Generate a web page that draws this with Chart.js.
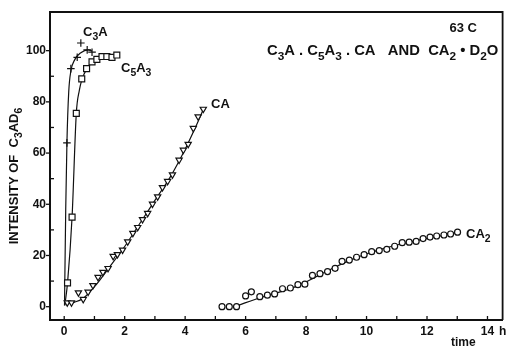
<!DOCTYPE html>
<html>
<head>
<meta charset="utf-8">
<script src="https://cdn.jsdelivr.net/npm/chart.js@4"></script>
<style>
html, body { margin: 0; padding: 0; background: #fff; }
canvas { display: block; }
</style>
</head>
<body>
<canvas id="myChart" width="508" height="347"></canvas>
<script>
// measured points (time in h, intensity)
var c3aTime = [0.09, 0.22, 0.43, 0.55, 0.76, 0.92];
var c3aInt  = [64, 93, 97.4, 103, 100.3, 99.4];

var c5a3Time = [0.11, 0.26, 0.40, 0.58, 0.74, 0.92, 1.08, 1.25, 1.41, 1.58, 1.74];
var c5a3Int  = [9.3, 35, 75.5, 89, 93, 95.6, 96.6, 97.7, 97.7, 97.4, 98.3];

var caTime = [0.10, 0.24, 0.47, 0.63, 0.79, 0.95, 1.12, 1.28, 1.45, 1.62, 1.76, 1.93, 2.10, 2.27, 2.43, 2.59, 2.76, 2.92, 3.09, 3.25, 3.42, 3.58, 3.80, 3.94, 4.10, 4.27, 4.43, 4.60];
var caInt  = [1.6, 1.6, 5.5, 2.9, 5.8, 8.3, 11.5, 13.5, 15.0, 19.7, 20.4, 22.2, 25.4, 28.7, 31.0, 34.1, 36.5, 40.1, 43.0, 46.6, 49.0, 51.6, 57.3, 61.2, 63.5, 69.7, 74.2, 77.2];

var ca2Time = [5.22, 5.46, 5.70, 6.00, 6.19, 6.47, 6.72, 6.96, 7.22, 7.48, 7.73, 7.96, 8.21, 8.46, 8.71, 8.96, 9.19, 9.43, 9.67, 9.92, 10.17, 10.42, 10.67, 10.93, 11.18, 11.41, 11.64, 11.87, 12.10, 12.32, 12.56, 12.78, 13.01];
var ca2Int  = [0, 0, 0, 4.2, 5.8, 3.9, 4.5, 5.0, 7.0, 7.3, 8.6, 8.8, 12.2, 12.9, 13.7, 15.0, 17.7, 18.2, 19.3, 20.3, 21.5, 21.9, 22.4, 23.6, 25.0, 25.2, 25.5, 26.6, 27.2, 27.6, 28.0, 28.4, 29.1];

// hand drawn fit curves
var c3aCurveTime = [0.01, 0.05, 0.09, 0.15, 0.22, 0.35, 0.55, 0.80, 0.92];
var c3aCurveInt  = [0.5, 38, 64, 84, 92, 96.5, 99.2, 100.3, 99.8];

var c5a3CurveTime = [0.02, 0.11, 0.26, 0.40, 0.50, 0.58, 0.74, 0.92, 1.20, 1.74];
var c5a3CurveInt  = [0.5, 9.3, 35, 75.5, 84.5, 88.5, 92.8, 95.4, 97, 98.3];

var caCurveTime = [0.02, 0.35, 0.62, 1.0, 1.5, 2.0, 2.5, 3.0, 3.5, 4.0, 4.3, 4.6];
var caCurveInt  = [1.2, 1.8, 3.2, 7.8, 15.5, 23.5, 32.5, 41.5, 50.5, 61.5, 69, 77];

var ca2CurveTime = [5.72, 6.5, 7.0, 7.5, 8.0, 8.5, 9.0, 9.5, 10.0, 10.5, 11.0, 11.5, 12.0, 12.5, 13.0];
var ca2CurveInt  = [0.4, 3.6, 5.3, 7.1, 9.7, 12.7, 15.7, 18.4, 20.6, 22.5, 24.1, 25.4, 26.7, 27.8, 28.9];

var xTicks = [0, 1, 2, 3, 4, 5, 6, 7, 8, 9, 10, 11, 12, 13, 14];
var xLabels = [0, 2, 4, 6, 8, 10, 12, 14];
var yTicks = [0, 10, 20, 30, 40, 50, 60, 70, 80, 90, 100];
var yLabels = [0, 20, 40, 60, 80, 100];

var ink = '#111';

function pairs(xs, ys) {
    return xs.map(function (x, i) { return {x: x, y: ys[i]}; });
}

function markers(xs, ys, style, r, rot) {
    return {
        data: pairs(xs, ys),
        showLine: false,
        pointStyle: style,
        pointRadius: r,
        pointRotation: rot || 0,
        pointBackgroundColor: '#fff',
        pointBorderColor: ink,
        pointBorderWidth: 1.2,
        order: 1
    };
}

function curve(xs, ys) {
    return {
        data: pairs(xs, ys),
        showLine: true,
        borderColor: ink,
        borderWidth: 1.2,
        pointRadius: 0,
        cubicInterpolationMode: 'monotone',
        order: 2
    };
}

// text with subscripts, parts = [[text, isSub], ...]
function drawRich(c, parts, x, y, size) {
    var cx = x;
    parts.forEach(function (p) {
        var s = p[1] ? size * 0.8 : size;
        c.font = 'bold ' + s + 'px "Liberation Sans", Arial, sans-serif';
        c.fillText(p[0], cx, p[1] ? y + size * 0.32 : y);
        cx += c.measureText(p[0]).width;
    });
    return cx - x;
}

function richWidth(c, parts, size) {
    var w = 0;
    parts.forEach(function (p) {
        var s = p[1] ? size * 0.8 : size;
        c.font = 'bold ' + s + 'px "Liberation Sans", Arial, sans-serif';
        w += c.measureText(p[0]).width;
    });
    return w;
}

var extras = {
    id: 'extras',
    afterDraw: function (chart) {
        var c = chart.ctx;
        var a = chart.chartArea;
        var xs = chart.scales.x, ys = chart.scales.y;
        c.save();
        c.strokeStyle = ink;
        c.fillStyle = ink;

        // top and right frame
        c.lineWidth = 1.8;
        c.beginPath();
        c.moveTo(a.left - 1, a.top);
        c.lineTo(a.right, a.top);
        c.lineTo(a.right, a.bottom);
        c.stroke();

        // tick marks
        c.lineWidth = 1.3;
        xTicks.forEach(function (v) {
            var px = xs.getPixelForValue(v);
            c.beginPath();
            c.moveTo(px, a.bottom);
            c.lineTo(px, a.bottom - 4);
            c.stroke();
        });
        yTicks.forEach(function (v) {
            var py = ys.getPixelForValue(v);
            c.beginPath();
            if (yLabels.indexOf(v) >= 0) {
                c.moveTo(a.left - 4, py);
                c.lineTo(a.left, py);
            } else {
                c.moveTo(a.left, py);
                c.lineTo(a.left + 4, py);
            }
            c.stroke();
        });

        c.textBaseline = 'alphabetic';
        c.textAlign = 'left';

        // series labels
        drawRich(c, [['C', 0], ['3', 1], ['A', 0]], 83, 36, 13);
        drawRich(c, [['C', 0], ['5', 1], ['A', 0], ['3', 1]], 121, 72, 13);
        drawRich(c, [['CA', 0]], 211, 108, 13);
        drawRich(c, [['CA', 0], ['2', 1]], 466, 238, 13);

        // header
        var t = [['63 C', 0]];
        drawRich(c, t, 477 - richWidth(c, t, 13), 32, 13);
        drawRich(c, [['C', 0], ['3', 1], ['A . C', 0], ['5', 1], ['A', 0], ['3', 1],
            [' . CA   AND  CA', 0], ['2', 1], [' \u2022 D', 0], ['2', 1], ['O', 0]], 267, 55, 14.8);

        // axis unit and title
        drawRich(c, [['h', 0]], 499, 335, 12);
        drawRich(c, [['time', 0]], 451, 346, 12);

        var yt = [['INTENSITY OF  C', 0], ['3', 1], ['AD', 0], ['6', 1]];
        var w = richWidth(c, yt, 13);
        c.translate(17.5, 176);
        c.rotate(-Math.PI / 2);
        drawRich(c, yt, -w / 2, 0, 13);
        c.restore();
    }
};

Chart.defaults.font.family = '"Liberation Sans", Arial, sans-serif';

var ctx = document.getElementById('myChart').getContext('2d');
var myChart = new Chart(ctx, {
    type: 'scatter',
    data: {
        datasets: [
            markers(c3aTime, c3aInt, 'cross', 3.8),
            markers(c5a3Time, c5a3Int, 'rect', 4.2),
            markers(caTime, caInt, 'triangle', 3.6, 180),
            markers(ca2Time, ca2Int, 'circle', 3),
            curve(c3aCurveTime, c3aCurveInt),
            curve(c5a3CurveTime, c5a3CurveInt),
            curve(caCurveTime, caCurveInt),
            curve(ca2CurveTime, ca2CurveInt)
        ]
    },
    options: {
        responsive: false,
        animation: false,
        devicePixelRatio: 1,
        layout: { padding: { top: 12, right: 2, left: 0, bottom: 0 } },
        plugins: {
            legend: { display: false },
            tooltip: { enabled: false }
        },
        scales: {
            x: {
                type: 'linear',
                min: -0.47,
                max: 14.5,
                grid: { display: false, drawTicks: false },
                border: { display: true, color: ink, width: 2 },
                afterBuildTicks: function (s) { s.ticks = xTicks.map(function (v) { return {value: v}; }); },
                afterFit: function (s) { s.height = 27; },
                ticks: {
                    autoSkip: false,
                    maxRotation: 0,
                    padding: 4,
                    color: ink,
                    font: { size: 12, weight: 'bold' },
                    callback: function (v) { return xLabels.indexOf(v) >= 0 ? String(v) : ''; }
                }
            },
            y: {
                type: 'linear',
                min: -5.2,
                max: 115.1,
                grid: { display: false, drawTicks: false },
                border: { display: true, color: ink, width: 2 },
                afterBuildTicks: function (s) { s.ticks = yTicks.map(function (v) { return {value: v}; }); },
                afterFit: function (s) { s.width = 50; },
                ticks: {
                    autoSkip: false,
                    padding: 4,
                    color: ink,
                    font: { size: 12, weight: 'bold' },
                    callback: function (v) { return yLabels.indexOf(v) >= 0 ? String(v) : ''; }
                }
            }
        }
    },
    plugins: [extras]
});
</script>
</body>
</html>
